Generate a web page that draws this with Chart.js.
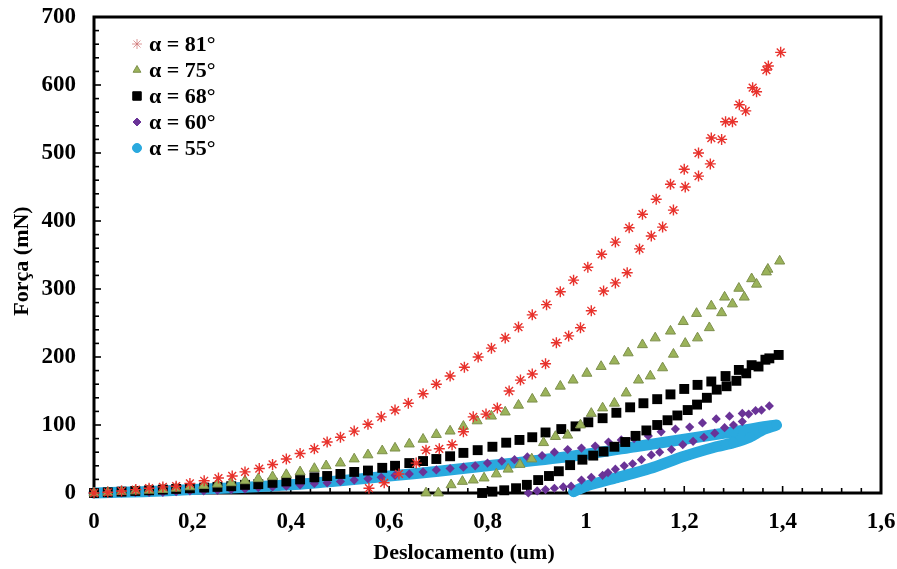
<!DOCTYPE html>
<html>
<head>
<meta charset="utf-8">
<script src="https://cdn.jsdelivr.net/npm/chart.js@4.4.1/dist/chart.umd.min.js"></script>
<style>
  html, body { margin: 0; padding: 0; background: #fff; }
</style>
</head>
<body>
<canvas id="grafico" width="897" height="569"></canvas>
<script>
// Ensaios de indentação: carga seguida de descarga para cada ângulo
const desloc81 = [0, 0.028, 0.056, 0.085, 0.112, 0.140, 0.167, 0.195, 0.224, 0.253, 0.281, 0.307, 0.336, 0.363, 0.391, 0.419, 0.448, 0.474, 0.501, 0.529, 0.557, 0.584, 0.612, 0.639, 0.669, 0.696, 0.724, 0.753, 0.781, 0.808, 0.836, 0.863, 0.891, 0.920, 0.948, 0.975, 1.004, 1.032, 1.060, 1.088, 1.115, 1.143, 1.172, 1.200, 1.229, 1.255, 1.284, 1.312, 1.339, 1.367, 1.396,
  1.371, 1.347, 1.325, 1.298, 1.276, 1.253, 1.229, 1.202, 1.178, 1.156, 1.133, 1.109, 1.084, 1.060, 1.036, 1.011, 0.989, 0.965, 0.940, 0.918, 0.891, 0.867, 0.844, 0.820, 0.797, 0.771, 0.751, 0.728, 0.702, 0.675, 0.655, 0.620, 0.590, 0.559];
const forca81 = [0, 1, 3, 5, 7, 9, 10, 14, 18, 22, 25, 31, 36, 42, 50, 58, 65, 75, 82, 91, 101, 112, 122, 132, 146, 160, 172, 185, 200, 213, 228, 244, 262, 277, 296, 313, 332, 351, 369, 390, 410, 432, 454, 476, 500, 522, 546, 571, 596, 622, 648,
  628, 590, 562, 546, 520, 484, 466, 450, 416, 391, 378, 359, 324, 309, 297, 268, 243, 231, 221, 190, 175, 166, 150, 125, 116, 112, 90, 71, 65, 63, 44, 28, 15, 7];

const desloc75 = [0, 0.028, 0.056, 0.084, 0.112, 0.140, 0.167, 0.195, 0.223, 0.251, 0.279, 0.307, 0.334, 0.363, 0.391, 0.419, 0.448, 0.472, 0.501, 0.529, 0.557, 0.586, 0.612, 0.641, 0.669, 0.696, 0.724, 0.751, 0.779, 0.808, 0.836, 0.863, 0.891, 0.918, 0.948, 0.974, 1.002, 1.031, 1.058, 1.086, 1.115, 1.141, 1.172, 1.198, 1.225, 1.255, 1.282, 1.311, 1.337, 1.370, 1.394,
  1.367, 1.347, 1.322, 1.298, 1.276, 1.251, 1.227, 1.202, 1.178, 1.156, 1.131, 1.107, 1.082, 1.058, 1.034, 1.011, 0.989, 0.963, 0.938, 0.914, 0.890, 0.866, 0.842, 0.818, 0.793, 0.771, 0.749, 0.726, 0.700, 0.675];
const forca75 = [0, 1, 2, 3, 4, 5, 7, 9, 11, 13, 15, 18, 21, 24, 27, 31, 36, 40, 44, 50, 56, 62, 66, 72, 79, 86, 91, 98, 106, 113, 119, 129, 138, 147, 157, 166, 176, 186, 194, 206, 218, 228, 238, 252, 264, 275, 288, 301, 315, 329, 341,
  325, 307, 288, 278, 265, 243, 228, 220, 204, 184, 172, 166, 147, 132, 125, 117, 100, 85, 83, 74, 50, 42, 35, 28, 22, 19, 17, 12, 0, 0];

const desloc68 = [0, 0.028, 0.056, 0.084, 0.112, 0.140, 0.167, 0.195, 0.224, 0.251, 0.279, 0.307, 0.334, 0.363, 0.391, 0.419, 0.448, 0.474, 0.501, 0.529, 0.557, 0.586, 0.612, 0.641, 0.669, 0.696, 0.724, 0.751, 0.780, 0.810, 0.838, 0.865, 0.891, 0.918, 0.950, 0.979, 1.005, 1.034, 1.062, 1.090, 1.117, 1.145, 1.172, 1.200, 1.227, 1.255, 1.284, 1.311, 1.337, 1.365, 1.392,
  1.373, 1.351, 1.326, 1.306, 1.286, 1.266, 1.246, 1.226, 1.207, 1.186, 1.166, 1.145, 1.123, 1.101, 1.080, 1.058, 1.036, 1.015, 0.993, 0.968, 0.945, 0.925, 0.903, 0.880, 0.858, 0.834, 0.810, 0.789];
const forca68 = [0, 1, 2, 3, 4, 5, 6, 7, 8, 9, 10, 12, 13, 15, 17, 20, 23, 25, 28, 31, 33, 37, 40, 44, 47, 50, 54, 59, 63, 68, 74, 78, 82, 89, 94, 98, 104, 110, 118, 126, 132, 138, 145, 153, 159, 164, 172, 181, 188, 196, 203,
  198, 186, 176, 165, 157, 152, 140, 130, 122, 114, 107, 100, 92, 84, 75, 68, 61, 55, 49, 41, 32, 25, 19, 12, 7, 4, 2, 0];

const desloc60 = [0, 0.028, 0.056, 0.084, 0.112, 0.140, 0.167, 0.195, 0.223, 0.251, 0.279, 0.307, 0.334, 0.363, 0.391, 0.419, 0.448, 0.474, 0.501, 0.529, 0.557, 0.584, 0.612, 0.641, 0.669, 0.696, 0.724, 0.751, 0.775, 0.800, 0.829, 0.855, 0.881, 0.911, 0.936, 0.963, 0.991, 1.019, 1.046, 1.072, 1.098, 1.127, 1.153, 1.182, 1.211, 1.237, 1.265, 1.292, 1.318, 1.345, 1.373,
  1.357, 1.331, 1.318, 1.300, 1.282, 1.262, 1.240, 1.218, 1.197, 1.174, 1.150, 1.133, 1.113, 1.095, 1.078, 1.060, 1.045, 1.034, 1.011, 0.991, 0.970, 0.954, 0.936, 0.918, 0.901, 0.883];
const forca60 = [0, 0, 0, 1, 1, 1, 2, 3, 3, 4, 5, 6, 8, 9, 10, 12, 14, 15, 17, 19, 21, 23, 26, 28, 31, 34, 36, 38, 40, 44, 47, 49, 53, 55, 60, 64, 66, 69, 75, 78, 80, 84, 90, 94, 97, 103, 109, 113, 117, 121, 128,
  122, 116, 105, 100, 96, 88, 82, 76, 71, 64, 60, 56, 49, 43, 40, 35, 30, 26, 23, 19, 10, 9, 7, 5, 3, 0];

const desloc55 = [0, 0.1, 0.2, 0.3, 0.4, 0.5, 0.6, 0.7, 0.8, 0.9, 1.0, 1.1, 1.2, 1.3, 1.387,
  1.36, 1.333, 1.30, 1.265, 1.2, 1.13, 1.06, 1.0, 0.975];
const forca55 = [0, 2, 5, 8, 12, 18, 25, 32, 40, 48, 57, 68, 79, 90, 100,
  93, 82, 74, 68, 54, 36, 22, 10, 2];

const rotulos = ['α = 81°', 'α = 75°', 'α = 68°', 'α = 60°', 'α = 55°'];
const ticksX = [0, 0.2, 0.4, 0.6, 0.8, 1, 1.2, 1.4, 1.6];
const ticksY = [0, 100, 200, 300, 400, 500, 600, 700];

const fonte = "'Liberation Serif', 'Times New Roman', serif";

function pontos(xs, ys) {
  return xs.map((x, i) => ({ x: x, y: ys[i] }));
}

// moldura preta e marcas internas dos eixos
const moldura = {
  id: 'moldura',
  beforeDatasetsDraw(chart) {
    const { ctx, chartArea: a, scales } = chart;
    ctx.save();
    ctx.strokeStyle = '#000';
    ctx.lineWidth = 1.6;
    for (let i = 0; i <= 40; i++) {
      const px = scales.x.getPixelForValue(i * 0.04);
      const len = i % 5 === 0 ? 7 : 5;
      ctx.beginPath();
      ctx.moveTo(px, a.bottom);
      ctx.lineTo(px, a.bottom - len);
      ctx.stroke();
    }
    for (let i = 0; i <= 35; i++) {
      const py = scales.y.getPixelForValue(i * 20);
      const len = i % 5 === 0 ? 7 : 5;
      ctx.beginPath();
      ctx.moveTo(a.left, py);
      ctx.lineTo(a.left + len, py);
      ctx.stroke();
    }
    ctx.lineWidth = 3;
    ctx.strokeRect(a.left, a.top, a.right - a.left, a.bottom - a.top);
    ctx.restore();
  },
  afterDraw(chart) {
    const { ctx } = chart;
    ctx.save();
    ctx.fillStyle = '#000';
    ctx.font = 'bold 22px ' + fonte;
    ctx.textAlign = 'center';
    ctx.textBaseline = 'middle';
    ctx.fillText('Deslocamento (um)', 464, 553);
    ctx.translate(22, 261);
    ctx.rotate(-Math.PI / 2);
    ctx.fillText('Força (mN)', 0, 0);
    ctx.restore();

    // legenda dentro da área do gráfico
    ctx.save();
    ctx.font = 'bold 22px ' + fonte;
    ctx.textAlign = 'left';
    ctx.textBaseline = 'middle';
    chart.data.datasets.forEach((ds, i) => {
      const y = 44 + i * 26;
      ctx.fillStyle = ds.legendaCor || ds.backgroundColor;
      ctx.strokeStyle = ds.legendaCor || ds.borderColor;
      ctx.lineWidth = 1;
      Chart.helpers.drawPoint(ctx, {
        pointStyle: ds.pointStyle,
        radius: ds.legendaRaio,
        borderWidth: 1,
        rotation: 0
      }, 137, y);
      ctx.fillStyle = '#000';
      ctx.fillText(rotulos[i], 149, y + 1);
    });
    ctx.restore();
  }
};

new Chart(document.getElementById('grafico'), {
  type: 'scatter',
  data: {
    datasets: [
      {
        label: rotulos[0], data: pontos(desloc81, forca81),
        pointStyle: 'star', pointRadius: 5.5, borderWidth: 1.4,
        borderColor: '#e8322c', backgroundColor: '#e8322c',
        legendaCor: 'rgba(205,110,110,0.7)', legendaRaio: 5, clip: false
      },
      {
        label: rotulos[1], data: pontos(desloc75, forca75),
        pointStyle: 'triangle', pointRadius: 5.8, borderWidth: 1,
        borderColor: '#7d8f4c', backgroundColor: '#9bb35a',
        legendaRaio: 4.5, clip: false
      },
      {
        label: rotulos[2], data: pontos(desloc68, forca68),
        pointStyle: 'rect', pointRadius: 7, borderWidth: 0,
        borderColor: '#000', backgroundColor: '#000',
        legendaRaio: 6, clip: false
      },
      {
        label: rotulos[3], data: pontos(desloc60, forca60),
        pointStyle: 'rectRot', pointRadius: 4.6, borderWidth: 0,
        borderColor: '#6a3397', backgroundColor: '#6a3397',
        legendaRaio: 4, clip: false
      },
      {
        label: rotulos[4], data: pontos(desloc55, forca55),
        pointStyle: 'circle', pointRadius: 5, borderWidth: 11,
        borderColor: '#2aa9de', backgroundColor: '#2aa9de',
        pointBorderWidth: 0, showLine: true, tension: 0.25,
        borderCapStyle: 'round', borderJoinStyle: 'round',
        legendaRaio: 4.5, clip: false
      }
    ]
  },
  options: {
    responsive: false,
    animation: false,
    layout: { padding: { top: 17, right: 16, left: 0, bottom: 0 } },
    plugins: { legend: { display: false }, tooltip: { enabled: false } },
    scales: {
      x: {
        type: 'linear', min: 0, max: 1.6,
        afterBuildTicks: s => { s.ticks = ticksX.map(v => ({ value: v })); },
        afterFit: s => { s.height = 76; s.paddingLeft = 0; s.paddingRight = 0; },
        grid: { display: false, drawTicks: false },
        border: { display: false },
        ticks: {
          color: '#000', padding: 15,
          font: { family: fonte, size: 23, weight: 'bold' },
          callback: v => (Math.round(v * 10) / 10).toString().replace('.', ',')
        }
      },
      y: {
        type: 'linear', min: 0, max: 700,
        afterBuildTicks: s => { s.ticks = ticksY.map(v => ({ value: v })); },
        afterFit: s => { s.width = 94; s.paddingTop = 0; s.paddingBottom = 0; },
        grid: { display: false, drawTicks: false },
        border: { display: false },
        ticks: {
          color: '#000', padding: 18,
          font: { family: fonte, size: 23, weight: 'bold' }
        }
      }
    }
  },
  plugins: [moldura]
});
</script>
</body>
</html>
